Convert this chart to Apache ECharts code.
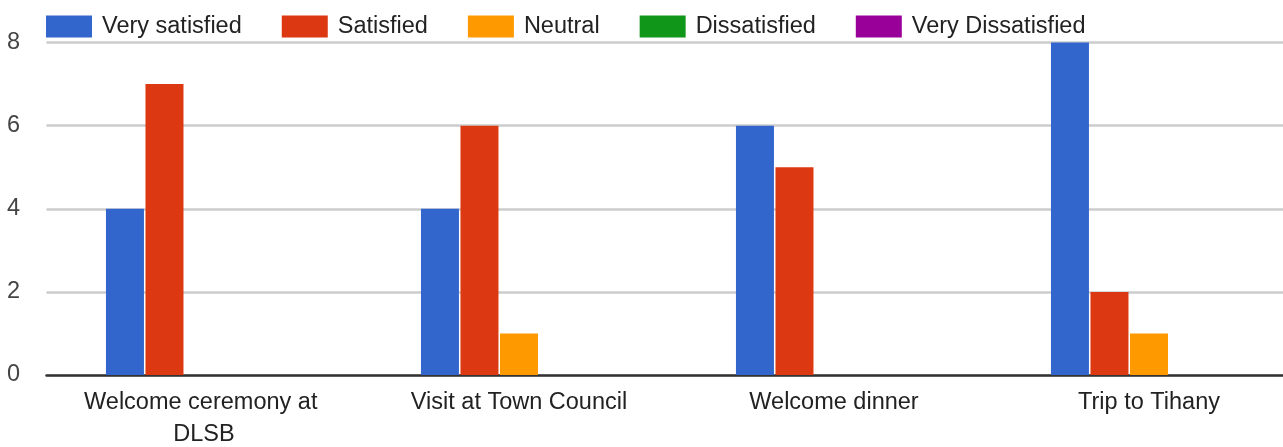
<!DOCTYPE html>
<html>
<head>
<meta charset="utf-8">
<script src="https://cdn.jsdelivr.net/npm/echarts@6/dist/echarts.min.js"></script>
<style>
html,body{margin:0;padding:0;background:#fff;}
#chart{width:1283px;height:447px;}
</style>
</head>
<body>
<div id="chart"></div>
<script>
const categories = ['Welcome ceremony at DLSB', 'Visit at Town Council', 'Welcome dinner', 'Trip to Tihany'];
const seriesNames = ['Very satisfied', 'Satisfied', 'Neutral', 'Dissatisfied', 'Very Dissatisfied'];
const verySatisfied = [4, 4, 6, 8];
const satisfied = [7, 6, 5, 2];
const neutral = [0, 1, 0, 1];
const dissatisfied = [0, 0, 0, 0];
const veryDissatisfied = [0, 0, 0, 0];
const yTicks = { min: 0, max: 8, interval: 2 };
const colors = ['#3366cc', '#dc3912', '#ff9900', '#109618', '#990099'];

const FONT = '"Liberation Sans", Arial, sans-serif';
const seriesData = [verySatisfied, satisfied, neutral, dissatisfied, veryDissatisfied];

const chart = echarts.init(document.getElementById('chart'), null, { renderer: 'canvas' });
chart.setOption({
  animation: false,
  color: colors,
  textStyle: { fontFamily: FONT },
  legend: {
    left: 41,
    top: 9.5,
    itemWidth: 46,
    itemHeight: 22,
    itemGap: 40,
    icon: 'rect',
    data: seriesNames,
    textStyle: { fontFamily: FONT, fontSize: 23.5, color: '#222', padding: [0, 0, 0, 5] }
  },
  grid: { left: 46.5, width: 1260, top: 42.5, bottom: 72, containLabel: false, outerBoundsMode: 'none' },
  xAxis: {
    type: 'category',
    data: categories,
    axisLine: { show: true, lineStyle: { color: '#333', width: 2.5 } },
    axisTick: { show: false },
    axisLabel: {
      margin: 12,
      fontFamily: FONT,
      fontSize: 23.5,
      color: '#222',
      lineHeight: 32,
      width: 270,
      overflow: 'break',
      interval: 0
    }
  },
  yAxis: {
    type: 'value',
    min: yTicks.min,
    max: yTicks.max,
    interval: yTicks.interval,
    axisLine: { show: false },
    axisTick: { show: false },
    splitLine: { lineStyle: { color: '#cccccc', width: 2.5 } },
    axisLabel: { margin: 26.5, fontFamily: FONT, fontSize: 23.5, color: '#444' }
  },
  series: seriesNames.map((name, i) => ({
    name: name,
    type: 'bar',
    data: seriesData[i],
    barWidth: 38,
    barGap: '4%',
    itemStyle: { color: colors[i] }
  }))
});
</script>
</body>
</html>
